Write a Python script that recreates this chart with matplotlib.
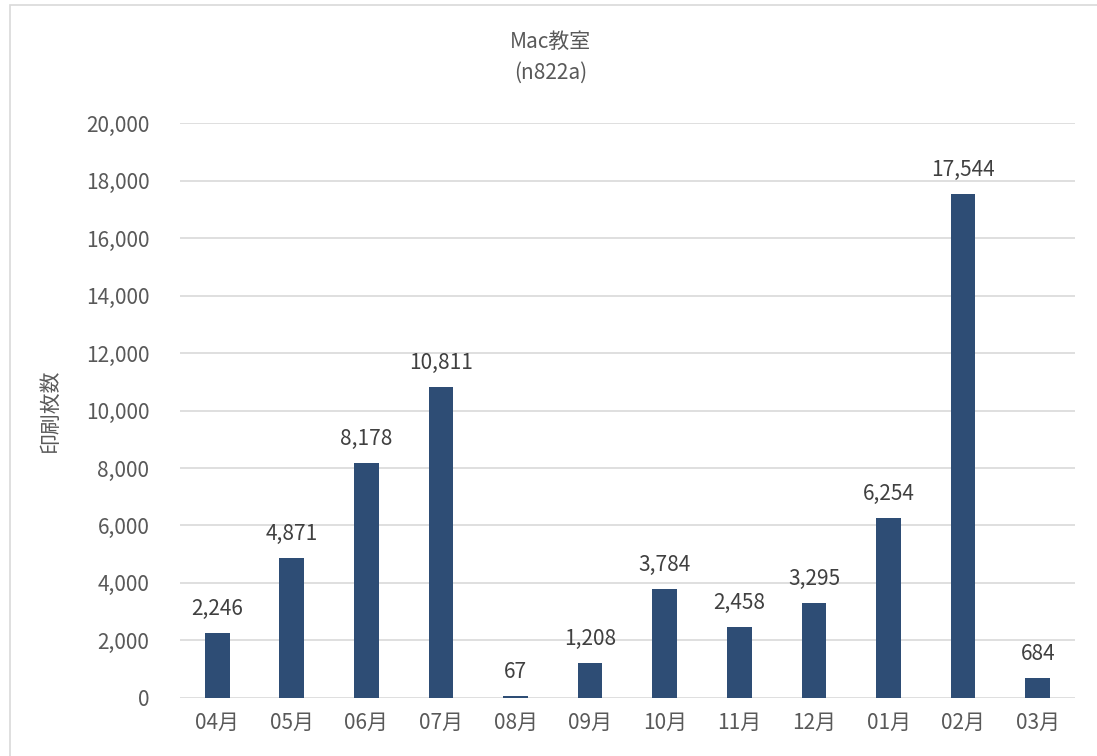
import matplotlib
matplotlib.use('Agg')
import matplotlib.pyplot as plt
from matplotlib.patches import Rectangle

plt.rcParams['font.family'] = ['Noto Sans CJK JP', 'DejaVu Sans']

# --- data ---
months = ['04月', '05月', '06月', '07月', '08月', '09月', '10月', '11月', '12月', '01月', '02月', '03月']
prints = [2246, 4871, 8178, 10811, 67, 1208, 3784, 2458, 3295, 6254, 17544, 684]
yticks = [0, 2000, 4000, 6000, 8000, 10000, 12000, 14000, 16000, 18000, 20000]

bar_color = '#2E4D75'
text_color = '#595959'
grid_color = '#D9D9D9'
fs = 15

fig = plt.figure(figsize=(10.97, 7.56), dpi=100)
ax = fig.add_axes([0.164, 0.077, 0.816, 0.76])

x = range(len(months))
bars = ax.bar(x, prints, width=0.33, color=bar_color, zorder=3)

# value labels above each bar
for xi, v in zip(x, prints):
    ax.text(xi, v + 450, f'{v:,}', ha='center', va='bottom', fontsize=fs, color='#404040')

ax.set_ylim(0, 20000)
ax.set_xlim(-0.5, len(months) - 0.5)
ax.set_yticks(yticks)
ax.set_yticklabels([f'{t:,}' for t in yticks], fontsize=fs, color=text_color)
ax.set_xticks(list(x))
ax.set_xticklabels(months, fontsize=fs, color=text_color)
ax.tick_params(axis='y', length=0, pad=22)
ax.tick_params(axis='x', length=0, pad=10)
ax.yaxis.grid(True, color=grid_color, linewidth=1.2, zorder=0)
for s in ax.spines.values():
    s.set_visible(False)

ax.set_ylabel('印刷枚数', fontsize=fs, color=text_color, labelpad=18)

fig.text(0.502, 0.944, 'Mac教室', ha='center', va='center', fontsize=fs, color=text_color)
fig.text(0.502, 0.904, '(n822a)', ha='center', va='center', fontsize=fs, color=text_color)

# light frame around the chart like the spreadsheet chart area
fig.patches.append(Rectangle((0.009, -0.01), 1.1, 1.003, transform=fig.transFigure,
                             fill=False, edgecolor='#D9D9D9', linewidth=1.2))

fig.savefig('out.png', dpi=100)
